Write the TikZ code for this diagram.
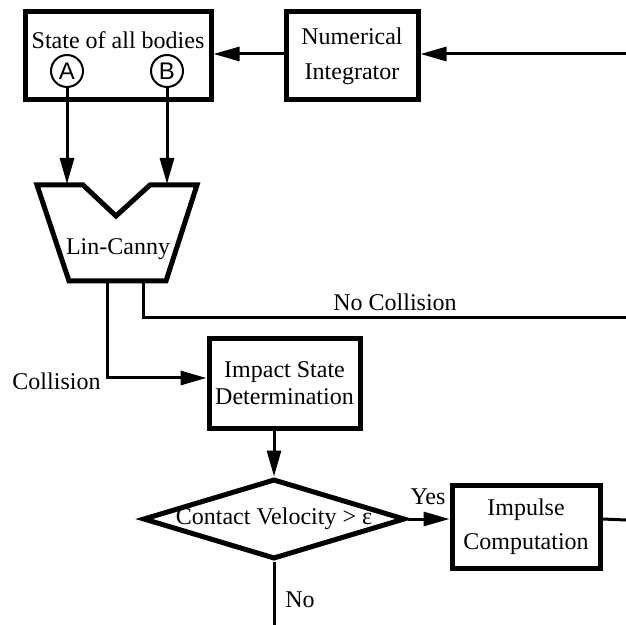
\documentclass[tikz,border=0pt]{standalone}
\usepackage{fontspec}
\setmainfont{Liberation Serif}
\newfontfamily\circfont{Liberation Sans}
\usetikzlibrary{arrows.meta}
\usetikzlibrary{shapes.geometric}

\begin{document}
\begin{tikzpicture}[x=0.5pt,y=-0.5pt,
		every node/.style={font=\fontsize{12}{17.5}\selectfont},
		blockbox/.style={draw,line width=2.5pt,rectangle,align=center,inner sep=0pt},
		decbox/.style={draw,line width=2.5pt,diamond,inner sep=0pt},
		circbox/.style={draw,line width=1pt,circle,minimum size=16pt,inner sep=0pt,font=\circfont\fontsize{12}{14}\selectfont},
		flow/.style={line width=1.5pt,-{Triangle[length=13pt,width=7pt]}},
		wire/.style={line width=1.5pt}]
		\useasboundingbox (0,0) rectangle (626,625);

		% state of the bodies
		\node[blockbox,minimum width=93pt,minimum height=44pt] (state) at (118,56) {};
		\node (statetxt) at (118,40) {State of all bodies};
		\node[circbox] (A) at (67,71) {A};
		\node[circbox] (B) at (167,71) {B};

		% integrator
		\node[blockbox,minimum width=66pt,minimum height=44pt] (integ) at (352,56) {Numerical\\Integrator};
		\coordinate (integin) at (626,54);
		\draw[flow] (integin) -- (integ.east |- integin);
		\draw[flow] (integ.west |- integin) -- (state.east |- integin);

		% Lin-Canny
		\draw[line width=2.5pt,line join=miter] (37,185) -- (83,185) -- (116,216) -- (150,185)
			-- (197,185) -- (166,281) -- (69,281) -- cycle;
		\node (lc) at (118,249) {Lin-Canny};
		\coordinate (lcA) at (67,184);
		\coordinate (lcB) at (167,184);
		\draw[flow] (A) -- (lcA);
		\draw[flow] (B) -- (lcB);

		\coordinate (lcout1) at (107,281);
		\coordinate (lcout2) at (143,281);
		\coordinate (nocoll) at (626,318);
		\draw[wire] (lcout2) |- (nocoll);
		\node (nocolltxt) at (395,302) {No Collision};

		% impact state
		\node[blockbox,minimum width=75.5pt,minimum height=44.5pt,font=\fontsize{12}{13.5}\selectfont] (impact) at (284.5,383.5) {Impact State\\Determination};
		\coordinate (collturn) at (107,378);
		\draw[flow] (lcout1) -- (collturn) -- (collturn -| impact.west);
		\node (colltxt) at (56.5,381) {Collision};

		% decision
		\node[decbox,minimum width=131pt,minimum height=40pt] (dec) at (274,519) {};
		\node (dectxt) at (dec) {Contact Velocity > ε};
		\draw[flow] (impact.south -| dec.north) -- (dec.north);

		% impulse
		\node[blockbox,minimum width=74pt,minimum height=41.5pt,font=\fontsize{12}{17}\selectfont] (impulse) at (526,526.5) {Impulse\\Computation};
		\draw[flow] (dec.east) -- (dec.east -| impulse.west);
		\node (yestxt) at (428,497) {Yes};
		\coordinate (impout) at (626,520);
		\draw[wire] (dec.east -| impulse.east) -- (impout);

		\coordinate (noend) at (274,625);
		\draw[wire] (dec.south) -- (noend);
		\node (notxt) at (300,600) {No};
	\end{tikzpicture}
\end{document}
